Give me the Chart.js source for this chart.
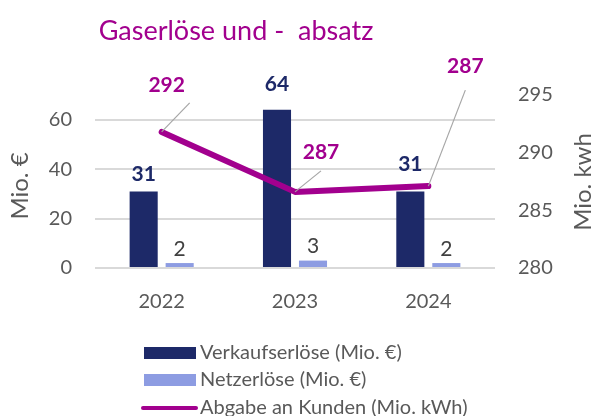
<!DOCTYPE html>
<html>
<head>
<meta charset="utf-8">
<script src="https://cdn.jsdelivr.net/npm/chart.js@4/dist/chart.umd.min.js"></script>
<style>
  html, body { margin: 0; padding: 0; background: #fff; }
  #wrap { width: 595px; height: 416px; position: relative; }
</style>
</head>
<body>
<div id="wrap"><canvas id="c" width="595" height="416"></canvas></div>
<script>
// values
var years = ['2022', '2023', '2024'];
var verkaufserloese = [31, 64, 31];      // Mio. €
var netzerloese = [2, 3, 2];             // Mio. €
var abgabe = [291.8, 286.6, 287.1];      // Mio. kWh
var leftTicks = [0, 20, 40, 60];
var rightTicks = [280, 285, 290, 295];

var NAVY = '#1d2968';
var LIGHT = '#8d9ce2';
var MAGENTA = '#a2008e';
var GREY = '#595959';
var FONT = 'Lato, "Noto Sans", sans-serif';

// label placement tweaks (px), like the hand-moved labels in the original
var lineLabelPos = [
  { dx: 5, dy: -47, lx: 28, ly: -29 },
  { dx: 26, dy: -40, lx: 26, ly: -21 },
  { dx: 37, dy: -120, lx: 37, ly: -96 }
];
var darkLabelGap = [17, 26, 27];
var lightLabelGap = 14;

var decor = {
  id: 'decor',
  afterDatasetsDraw: function (chart) {
    var c = chart.ctx;
    c.save();
    // title
    c.fillStyle = MAGENTA;
    c.font = '27px ' + FONT;
    c.textAlign = 'center';
    c.textBaseline = 'alphabetic';
    c.fillText('Gaserlöse und -  absatz', 236, 40);

    // axis titles
    c.fillStyle = GREY;
    c.font = '24px ' + FONT;
    c.textBaseline = 'middle';
    [[20, 186, 'Mio. €'], [583, 182, 'Mio. kwh']].forEach(function (t) {
      c.save();
      c.translate(t[0], t[1]);
      c.rotate(-Math.PI / 2);
      c.fillText(t[2], 0, 0);
      c.restore();
    });

    // bar labels
    var m1 = chart.getDatasetMeta(1), m2 = chart.getDatasetMeta(2);
    c.textAlign = 'center';
    m1.data.forEach(function (el, i) {
      c.fillStyle = NAVY;
      c.font = 'bold 21px ' + FONT;
      c.fillText(String(verkaufserloese[i]), el.x, el.y - darkLabelGap[i]);
    });
    m2.data.forEach(function (el, i) {
      c.fillStyle = '#404040';
      c.font = '21px ' + FONT;
      c.fillText(String(netzerloese[i]), el.x, el.y - lightLabelGap);
    });

    // line labels with leader lines
    var m0 = chart.getDatasetMeta(0);
    m0.data.forEach(function (el, i) {
      var p = lineLabelPos[i];
      c.strokeStyle = '#a6a6a6';
      c.lineWidth = 1.2;
      c.beginPath();
      c.moveTo(el.x, el.y);
      c.lineTo(el.x + p.lx, el.y + p.ly);
      c.stroke();
      c.fillStyle = MAGENTA;
      c.font = 'bold 21px ' + FONT;
      c.fillText(String(Math.round(abgabe[i])), el.x + p.dx, el.y + p.dy);
    });

    // legend, stacked
    var items = chart.data.datasets.slice(1).concat(chart.data.datasets.slice(0, 1));
    var rows = [353, 380, 408];
    c.textAlign = 'left';
    c.font = '20px ' + FONT;
    items.forEach(function (ds, i) {
      var y = rows[i];
      if (ds.type === 'line') {
        c.strokeStyle = ds.borderColor;
        c.lineWidth = 4;
        c.lineCap = 'round';
        c.beginPath();
        c.moveTo(143, y);
        c.lineTo(196, y);
        c.stroke();
      } else {
        c.fillStyle = ds.backgroundColor;
        c.fillRect(144, y - 6, 52, 12);
      }
      c.fillStyle = GREY;
      c.fillText(ds.label, 200, y);
    });
    c.restore();
  }
};

new Chart(document.getElementById('c').getContext('2d'), {
  data: {
    labels: years,
    datasets: [{
      type: 'line',
      label: 'Abgabe an Kunden (Mio. kWh)',
      data: abgabe,
      yAxisID: 'y2',
      borderColor: MAGENTA,
      borderWidth: 6,
      borderCapStyle: 'round',
      borderJoinStyle: 'round',
      pointRadius: 0,
      tension: 0,
      order: 0
    }, {
      type: 'bar',
      label: 'Verkaufserlöse (Mio. €)',
      data: verkaufserloese,
      yAxisID: 'y',
      backgroundColor: NAVY,
      categoryPercentage: 0.54,
      barPercentage: 0.78,
      order: 1
    }, {
      type: 'bar',
      label: 'Netzerlöse (Mio. €)',
      data: netzerloese,
      yAxisID: 'y',
      backgroundColor: LIGHT,
      categoryPercentage: 0.54,
      barPercentage: 0.78,
      order: 1
    }]
  },
  options: {
    responsive: false,
    animation: false,
    layout: { padding: { top: 95, left: 0, right: 0, bottom: 0 } },
    plugins: { legend: { display: false }, tooltip: { enabled: false } },
    scales: {
      x: {
        grid: { display: false },
        border: { display: false },
        ticks: { color: GREY, font: { family: FONT, size: 20 }, padding: 14 },
        afterFit: function (s) { s.height = 148; }
      },
      y: {
        position: 'left',
        min: 0, max: 70,
        afterBuildTicks: function (s) { s.ticks = leftTicks.map(function (v) { return { value: v }; }); },
        grid: { color: '#d9d9d9', lineWidth: 2, drawTicks: false },
        border: { display: false },
        ticks: { color: GREY, font: { family: FONT, size: 20 }, padding: 23 },
        afterFit: function (s) { s.width = 95; }
      },
      y2: {
        position: 'right',
        min: 280, max: 295,
        afterBuildTicks: function (s) { s.ticks = rightTicks.map(function (v) { return { value: v }; }); },
        grid: { display: false, drawTicks: false },
        border: { display: false },
        ticks: { color: GREY, font: { family: FONT, size: 20 }, padding: 23 },
        afterFit: function (s) { s.width = 100; }
      }
    }
  },
  plugins: [decor]
});
</script>
</body>
</html>
